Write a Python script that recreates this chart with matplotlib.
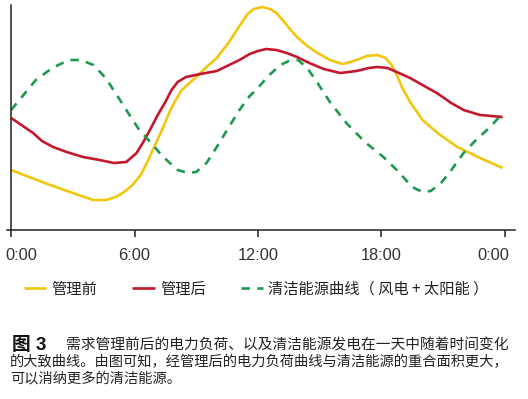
import matplotlib
matplotlib.use("Agg")
import matplotlib.pyplot as plt
from matplotlib.transforms import ScaledTranslation

plt.rcParams["font.family"] = ["Noto Sans CJK SC", "DejaVu Sans"]

# hours of the day
before_h = [0.0, 1.0, 1.9, 3.0, 4.0, 4.6, 5.1, 5.5, 5.9, 6.3, 6.6, 7.0, 7.4,
            7.7, 8.0, 8.3, 9.0, 9.5, 10.0, 10.6, 11.1, 11.5, 11.8, 12.2,
            12.6, 12.9, 13.2, 13.6, 13.9, 14.4, 14.9, 15.5, 16.1, 16.5, 16.8,
            17.3, 17.8, 18.2, 18.5, 18.8, 19.0, 19.4, 20.0, 20.8, 21.7, 22.8,
            23.9]
before_load = [60, 52, 45, 37, 30, 30, 33, 38, 45, 55, 67, 85, 103,
               118, 130, 140, 153, 163, 172, 188, 204, 216, 221, 223,
               221, 217, 210, 200, 193, 184, 177, 170, 166, 168, 170,
               174, 175, 172, 165, 153, 143, 128, 110, 96, 83, 72,
               62]

after_h = [0.0, 0.5, 1.07, 1.5, 2.04, 2.7, 3.5, 4.3, 5.0, 5.6, 6.1, 6.4, 6.75,
           7.1, 7.5, 7.8, 8.1, 8.5, 9.2, 10.0, 10.6, 11.1, 11.6, 12.0, 12.4,
           12.9, 13.4, 13.9, 14.5, 15.2, 16.0, 16.8, 17.4, 17.8, 18.3, 18.75,
           19.4, 20.0, 20.7, 21.4, 22.0, 22.8, 23.9]
after_load = [112, 105, 97, 89, 83, 78, 73, 70, 67, 68, 77, 87, 100,
              114, 128, 140, 148, 153, 156, 159, 165, 170, 176, 179, 181,
              180, 177, 173, 167, 161, 157, 159, 162, 163, 162, 158,
              152, 145, 137, 127, 120, 115, 113]

clean_h = [0.0, 0.6, 1.2, 2.0, 2.8, 3.4, 4.0, 4.6, 5.2, 5.6, 6.2, 6.8, 7.4,
           8.1, 8.6, 9.0, 9.5, 10.0, 10.5, 11.1, 11.6, 12.0, 12.5, 13.1,
           13.5, 13.95, 14.4, 14.9, 15.5, 16.3, 17.2, 18.1, 18.8, 19.5, 20.0,
           20.4, 20.9, 21.3, 22.0, 22.6, 23.3, 23.9]
clean_gen = [120, 135, 150, 162, 170, 170, 165, 152, 133, 120, 101, 87, 73,
             60, 57, 58, 67, 83, 100, 120, 134, 142, 154, 165,
             169, 170, 162, 147, 128, 107, 88, 73, 59, 43, 38,
             39, 47, 57, 77, 90, 103, 117]

tick_hours = [0, 6, 12, 18, 24]
tick_labels = ["0:00", "6:00", "12:00", "18:00", "0:00"]
series_names = ["管理前", "管理后", "清洁能源曲线（ 风电 + 太阳能 ）"]

caption = [
    "需求管理前后的电力负荷、以及清洁能源发电在一天中随着时间变化",
    "的大致曲线。由图可知，经管理后的电力负荷曲线与清洁能源的重合面积更大，",
    "可以消纳更多的清洁能源。",
]

W, H = 528, 399
fig = plt.figure(figsize=(W / 100, H / 100), dpi=100)
ax = fig.add_axes([7 / W, (H - 230) / H, (515 - 7) / W, 225 / H])

ax.plot(before_h, before_load, color="#F2C60F", lw=1.9,
        solid_capstyle="butt", label=series_names[0])
ax.plot(after_h, after_load, color="#C4182E", lw=1.9,
        solid_capstyle="butt", label=series_names[1])
ax.plot(clean_h, clean_gen, color="#1E9A50", lw=1.9,
        dashes=(3.2, 2.8), label=series_names[2])

ax.set_xlim(-0.2, 24.5)
ax.set_ylim(0, 225)
ax.spines["top"].set_visible(False)
ax.spines["right"].set_visible(False)
ax.spines["left"].set_position(("data", 0))
for s in ["left", "bottom"]:
    ax.spines[s].set_color("#222222")
    ax.spines[s].set_linewidth(1.1)
ax.set_yticks([])
ax.set_xticks(tick_hours)
ax.set_xticklabels(tick_labels, family="Liberation Sans", fontsize=11.8,
                   color="#333333")
ax.tick_params(axis="x", direction="out", length=5, width=1.1,
               color="#222222", pad=8)

# end labels sit inside the axis ends, like the original
labels = ax.get_xticklabels()
labels[0].set_ha("left")
labels[0].set_transform(labels[0].get_transform()
                        + ScaledTranslation(-0.06, 0, fig.dpi_scale_trans))
labels[-1].set_ha("right")
labels[-1].set_transform(labels[-1].get_transform()
                         + ScaledTranslation(0.05, 0, fig.dpi_scale_trans))

leg = fig.legend(loc="center left", bbox_to_anchor=(24 / W, (H - 289) / H),
                 ncol=3, frameon=False, fontsize=11, borderpad=0,
                 borderaxespad=0, handlelength=1.45, handletextpad=0.35,
                 columnspacing=2.3)
for t in leg.get_texts():
    t.set_color("#222222")

fig.text(12 / W, (H - 345) / H, "图 3", family=["Liberation Sans", "Noto Sans CJK SC"],
         fontsize=13.5, weight="bold", va="center", color="#111111")
fig.text(66 / W, (H - 345) / H, caption[0], fontsize=10.6, va="center",
         color="#222222")
fig.text(10 / W, (H - 362) / H, caption[1], fontsize=10.25, va="center",
         color="#222222")
fig.text(10 / W, (H - 378) / H, caption[2], fontsize=10.25, va="center",
         color="#222222")

fig.savefig("out.png", dpi=100)
